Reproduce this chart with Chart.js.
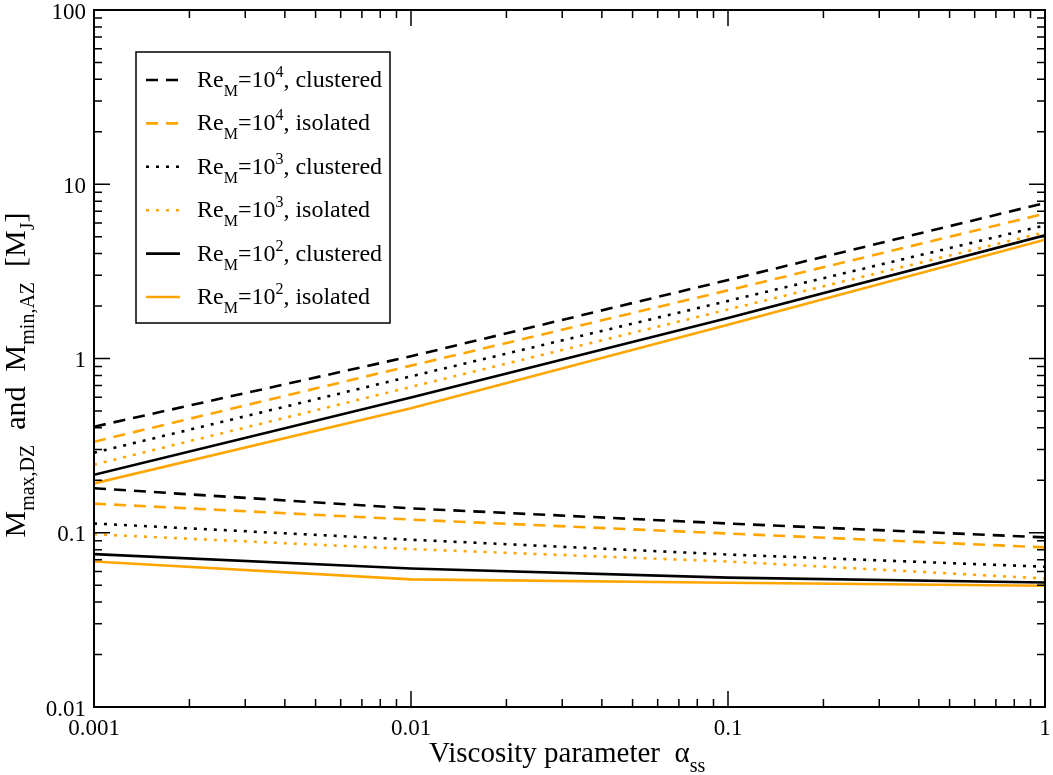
<!DOCTYPE html>
<html>
<head>
<meta charset="utf-8">
<script src="https://cdn.jsdelivr.net/npm/chart.js@4.4.1/dist/chart.umd.min.js"></script>
<style>
  html, body { margin: 0; padding: 0; background: #fff; }
  canvas { display: block; }
</style>
</head>
<body>
<canvas id="massChart" width="1053" height="775"></canvas>
<script>
// viscosity parameter values (x)
const alpha = [0.001, 0.01, 0.1, 1];

// rising branch
const upRe4Clustered = [0.406, 1.03, 2.82, 7.81];
const upRe4Isolated  = [0.333, 0.91, 2.46, 6.78];
const upRe3Clustered = [0.288, 0.79, 2.14, 5.81];
const upRe3Isolated  = [0.246, 0.687, 1.91, 5.3];
const upRe2Clustered = [0.215, 0.597, 1.71, 5.09];
const upRe2Isolated  = [0.192, 0.518, 1.56, 4.81];

// falling branch
const lowRe4Clustered = [0.180, 0.138, 0.113, 0.094];
const lowRe4Isolated  = [0.147, 0.119, 0.099, 0.0824];
const lowRe3Clustered = [0.113, 0.0912, 0.075, 0.0638];
const lowRe3Isolated  = [0.098, 0.0806, 0.0684, 0.0546];
const lowRe2Clustered = [0.0754, 0.0624, 0.0553, 0.0518];
const lowRe2Isolated  = [0.0684, 0.054, 0.0516, 0.0496];

const xTicks = [0.001, 0.01, 0.1, 1];
const xTickLabels = ['0.001', '0.01', '0.1', '1'];
const yTicks = [0.01, 0.1, 1, 10, 100];
const yTickLabels = ['0.01', '0.1', '1', '10', '100'];

const reExponents = ['4', '4', '3', '3', '2', '2'];
const runKinds = ['clustered', 'isolated', 'clustered', 'isolated', 'clustered', 'isolated'];

const upper = [upRe4Clustered, upRe4Isolated, upRe3Clustered, upRe3Isolated, upRe2Clustered, upRe2Isolated];
const lower = [lowRe4Clustered, lowRe4Isolated, lowRe3Clustered, lowRe3Isolated, lowRe2Clustered, lowRe2Isolated];

const ORANGE = '#ffa500';
const DASHED = [12, 8];
const DOTTED = [3, 7];
const styles = [
  { color: '#000', dash: DASHED },
  { color: ORANGE, dash: DASHED },
  { color: '#000', dash: DOTTED },
  { color: ORANGE, dash: DOTTED },
  { color: '#000', dash: [] },
  { color: ORANGE, dash: [] },
];

const FONT = '"Liberation Serif", "DejaVu Serif", serif';

const datasets = [];
styles.forEach((s, i) => {
  [upper[i], lower[i]].forEach((series) => {
    datasets.push({
      data: alpha.map((a, k) => ({ x: a, y: series[k] })),
      borderColor: s.color,
      borderDash: s.dash,
      borderWidth: 2.6,
      pointRadius: 0,
      tension: 0,
      fill: false,
    });
  });
});

// draw a run of text pieces (main / sub / sup) left to right
function drawRich(ctx, x, y, parts) {
  let cx = x;
  parts.forEach((p) => {
    ctx.font = p.size + 'px ' + FONT;
    ctx.fillText(p.t, cx, y + (p.dy || 0));
    cx += ctx.measureText(p.t).width;
  });
  return cx - x;
}

function richWidth(ctx, parts) {
  let w = 0;
  parts.forEach((p) => {
    ctx.font = p.size + 'px ' + FONT;
    w += ctx.measureText(p.t).width;
  });
  return w;
}

const framePlugin = {
  id: 'frame',
  afterDatasetsDraw(chart) {
    const { ctx, chartArea: a, scales: { x, y } } = chart;
    ctx.save();
    ctx.strokeStyle = '#000';
    ctx.fillStyle = '#000';
    ctx.setLineDash([]);

    // inward ticks on all four sides
    ctx.lineWidth = 1.5;
    const minors = [2, 3, 4, 5, 6, 7, 8, 9];
    const vTick = (px, len) => {
      ctx.beginPath();
      ctx.moveTo(px, a.bottom); ctx.lineTo(px, a.bottom - len);
      ctx.moveTo(px, a.top); ctx.lineTo(px, a.top + len);
      ctx.stroke();
    };
    const hTick = (py, len) => {
      ctx.beginPath();
      ctx.moveTo(a.left, py); ctx.lineTo(a.left + len, py);
      ctx.moveTo(a.right, py); ctx.lineTo(a.right - len, py);
      ctx.stroke();
    };
    xTicks.forEach((v, i) => {
      vTick(x.getPixelForValue(v), 16);
      if (i < xTicks.length - 1) minors.forEach((m) => vTick(x.getPixelForValue(v * m), 8));
    });
    yTicks.forEach((v, i) => {
      hTick(y.getPixelForValue(v), 16);
      if (i < yTicks.length - 1) minors.forEach((m) => hTick(y.getPixelForValue(v * m), 8));
    });

    // frame
    ctx.lineWidth = 2;
    ctx.strokeRect(a.left, a.top, a.right - a.left, a.bottom - a.top);

    // tick labels
    ctx.font = '23px ' + FONT;
    ctx.textBaseline = 'alphabetic';
    ctx.textAlign = 'center';
    xTicks.forEach((v, i) => ctx.fillText(xTickLabels[i], x.getPixelForValue(v), a.bottom + 28));
    ctx.textAlign = 'right';
    yTicks.forEach((v, i) => ctx.fillText(yTickLabels[i], a.left - 8, y.getPixelForValue(v) + 8.5));

    // axis titles
    ctx.textAlign = 'left';
    drawRich(ctx, 429, 762, [
      { t: 'Viscosity parameter  \u03b1', size: 29 },
      { t: 'ss', size: 20, dy: 10 },
    ]);

    const yTitle = [
      { t: 'M', size: 30 },
      { t: 'max,DZ', size: 20, dy: 9 },
      { t: '  and  ', size: 30 },
      { t: 'M', size: 30 },
      { t: 'min,AZ', size: 20, dy: 9 },
      { t: '  [M', size: 30 },
      { t: 'J', size: 20, dy: 9 },
      { t: ']', size: 30 },
    ];
    const tw = richWidth(ctx, yTitle);
    ctx.save();
    ctx.translate(25, 375 + tw / 2);
    ctx.rotate(-Math.PI / 2);
    drawRich(ctx, 0, 0, yTitle);
    ctx.restore();

    // legend
    const lx = 136, ly = 52, lw = 254, lh = 271;
    ctx.fillStyle = '#fff';
    ctx.fillRect(lx, ly, lw, lh);
    ctx.lineWidth = 1.5;
    ctx.strokeStyle = '#000';
    ctx.strokeRect(lx, ly, lw, lh);
    styles.forEach((s, i) => {
      const rowY = 80 + i * 43.4;
      ctx.strokeStyle = s.color;
      ctx.lineWidth = 2.6;
      ctx.setLineDash(s.dash);
      ctx.beginPath();
      ctx.moveTo(146, rowY);
      ctx.lineTo(180, rowY);
      ctx.stroke();
      ctx.setLineDash([]);
      ctx.fillStyle = '#000';
      drawRich(ctx, 197, rowY + 7, [
        { t: 'Re', size: 24 },
        { t: 'M', size: 16, dy: 9 },
        { t: '=10', size: 24 },
        { t: reExponents[i], size: 16, dy: -10 },
        { t: ', ' + runKinds[i], size: 24 },
      ]);
    });
    ctx.restore();
  },
};

const whiteBg = {
  id: 'whiteBg',
  beforeDraw(chart) {
    const { ctx, width, height } = chart;
    ctx.save();
    ctx.fillStyle = '#fff';
    ctx.fillRect(0, 0, width, height);
    ctx.restore();
  },
};

new Chart(document.getElementById('massChart').getContext('2d'), {
  type: 'line',
  data: { datasets },
  options: {
    responsive: false,
    animation: false,
    devicePixelRatio: 1,
    layout: { padding: { left: 94, right: 8, top: 10, bottom: 68 } },
    plugins: { legend: { display: false }, tooltip: { enabled: false } },
    scales: {
      x: { type: 'logarithmic', min: 0.001, max: 1, display: false },
      y: { type: 'logarithmic', min: 0.01, max: 100, display: false },
    },
  },
  plugins: [whiteBg, framePlugin],
});
</script>
</body>
</html>
